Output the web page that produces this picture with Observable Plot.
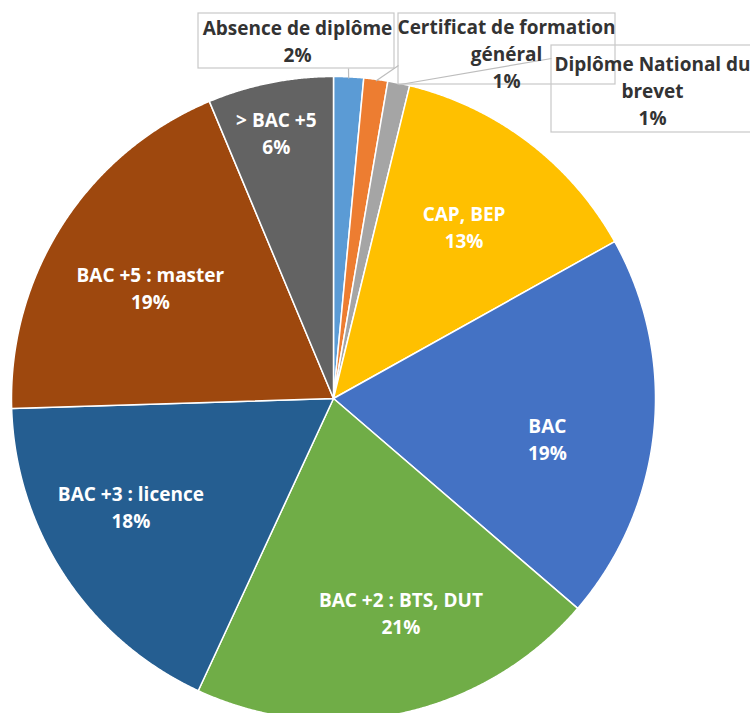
<!DOCTYPE html>
<html><head><meta charset="utf-8">
<script src="https://cdn.jsdelivr.net/npm/d3@7"></script>
<script src="https://cdn.jsdelivr.net/npm/@observablehq/plot@0.6"></script>
<style>html,body{margin:0;padding:0;background:#fff}#chart{width:750px;height:713px;overflow:hidden}</style>
</head><body><div id="chart"></div>
<script>
// ---- data ----
const categories = ["Absence de diplôme", "Certificat de formation général", "Diplôme National du brevet", "CAP, BEP", "BAC", "BAC +2 : BTS, DUT", "BAC +3 : licence", "BAC +5 : master", "> BAC +5"];
const shares = [1.5, 1.2, 1.1, 13.1, 19.4, 20.6, 17.6, 19.2, 6.3];
const labelTexts = ["Absence de diplôme", "Certificat de formation\ngénéral", "Diplôme National du\nbrevet", "CAP, BEP", "BAC", "BAC +2 : BTS, DUT", "BAC +3 : licence", "BAC +5 : master", "> BAC +5"];
const colors = ["#5B9BD5", "#ED7D31", "#A5A5A5", "#FFC000", "#4472C4", "#70AD47", "#255E91", "#9E480E", "#636363"];

// ---- layout (pixels) ----
const CX = 333, CY = 398, R = 322;
const toX = px => (px - CX) / R, toY = py => (CY - py) / R;
// callout boxes for the small outside slices: [x1, x2, y1, y2, textX, textY, leaderX, leaderY]
const callouts = {
  0: [198, 394, 13, 68, 297, 39, 348, 68],
  1: [398, 615, 13, 84, 506, 52, 398, 65],
  2: [551, 762, 45, 132, 652, 89, 551, 58]
};
// pixel nudges of inside labels (Excel best-fit placement)
const nudges = {3: [-2, 2], 4: [-4, 17], 5: [21, -1], 6: [-20, -13], 7: [1, 7], 8: [-4, -1]};

// ---- geometry ----
const arcs = d3.pie().sort(null).value(d => d)(shares);
const slicePts = [];
arcs.forEach((a, i) => {
  const cat = categories[i];
  slicePts.push({cat, x: 0, y: 0});
  const n = Math.max(2, Math.ceil((a.endAngle - a.startAngle) / 0.004));
  for (let k = 0; k <= n; k++) {
    const t = a.startAngle + (a.endAngle - a.startAngle) * k / n;
    slicePts.push({cat, x: Math.sin(t), y: Math.cos(t)});
  }
  slicePts.push({cat, x: 0, y: 0});
});

const pct = i => Math.round(shares[i]) + "%";
const inside = [], outside = [], boxes = [], leaders = [];
arcs.forEach((a, i) => {
  const mid = (a.startAngle + a.endAngle) / 2;
  if (callouts[i]) {
    const [x1, x2, y1, y2, tx, ty, lx, ly] = callouts[i];
    boxes.push({x1: toX(x1), x2: toX(x2), y1: toY(y1), y2: toY(y2)});
    outside.push({x: toX(tx), y: toY(ty), text: labelTexts[i] + "\n" + pct(i)});
    leaders.push({x1: toX(lx), y1: toY(ly), x2: Math.sin(mid), y2: Math.cos(mid) * 0.995});
  } else {
    const r = shares[i] < 10 ? 0.84 : 0.68;
    const [dx, dy] = nudges[i] || [0, 0];
    inside.push({x: r * Math.sin(mid) + dx / R, y: r * Math.cos(mid) - dy / R, text: labelTexts[i] + "\n" + pct(i)});
  }
});

const font = {fontWeight: "bold", fontSize: 19, lineHeight: 1.42};
const plot = Plot.plot({
  width: 750, height: 713, margin: 0,
  x: {domain: [-1, 1], range: [CX - R, CX + R], axis: null},
  y: {domain: [-1, 1], range: [CY + R, CY - R], axis: null},
  color: {domain: categories, range: colors},
  style: {fontFamily: "'Open Sans', Lato, sans-serif", background: "white", overflow: "hidden"},
  marks: [
    Plot.line(slicePts, {x: "x", y: "y", z: "cat", fill: "cat", stroke: "white", strokeWidth: 1.5, strokeLinejoin: "round"}),
    Plot.rect(boxes, {x1: "x1", x2: "x2", y1: "y1", y2: "y2", fill: "none", stroke: "#C8C8C8", strokeWidth: 1.2}),
    Plot.link(leaders, {x1: "x1", y1: "y1", x2: "x2", y2: "y2", stroke: "#BDBDBD", strokeWidth: 1.2}),
    Plot.text(inside, {x: "x", y: "y", text: "text", fill: "white", ...font}),
    Plot.text(outside, {x: "x", y: "y", text: "text", fill: "#333333", ...font})
  ]
});
document.getElementById("chart").appendChild(plot);
</script>
</body></html>
